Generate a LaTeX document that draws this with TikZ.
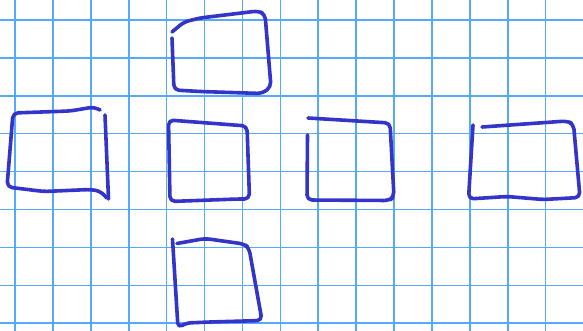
\documentclass[tikz,border=0pt]{standalone}
\definecolor{gridblue}{RGB}{85,170,255}
\definecolor{inkc}{RGB}{52,52,200}
\tikzset{
  gridline/.style={draw=gridblue, line width=1.6pt},
  ink/.style={draw=inkc, line width=3.6pt, line cap=round, line join=round, rounded corners=5pt}
}
\begin{document}
\begin{tikzpicture}[x=1pt,y=-1pt]
\useasboundingbox[fill=white] (0,0) rectangle (583,331);
\foreach \i in {0,...,15} \draw[gridline] ({15+37.9*\i},0) -- ({15+37.9*\i},331);
\foreach \j in {0,...,8} \draw[gridline] (0,{20+37.9*\j}) -- (583,{20+37.9*\j});
% top
\draw[ink] (172,38) -- (174,90) -- (200,91.5) -- (262,93.5) -- (271,87) -- (265,14) -- (258,11) -- (200,18) -- (184,22) -- (172,32);
% left
\draw[ink] (100,110) -- (94,107) -- (70,111) -- (13,113) -- (7,187) -- (44,191.5) -- (90,189.5) -- (100,191) -- (107,198);
\draw[ink] (105,115) -- (108.5,199);
% center
\draw[ink] (168.5,120) -- (247,126) -- (249.5,199) -- (238,199) -- (170,201.5) -- cycle;
% right-center
\draw[ink] (308,118) -- (390,123) -- (394,197) -- (389,200.5) -- (307,200) -- (307.5,135);
% far right
\draw[ink] (473,125) -- (468.5,199) -- (507,196.5) -- (543,199.5) -- (580,197.5) -- (573.5,124) -- (567,121) -- (482,127);
% bottom
\draw[ink] (172.5,239) -- (178,328) -- (186,323) -- (210,322) -- (262,320.5) -- (249,248) -- (244,244) -- (205,238.5) -- (177,243.5);
\end{tikzpicture}
\end{document}
